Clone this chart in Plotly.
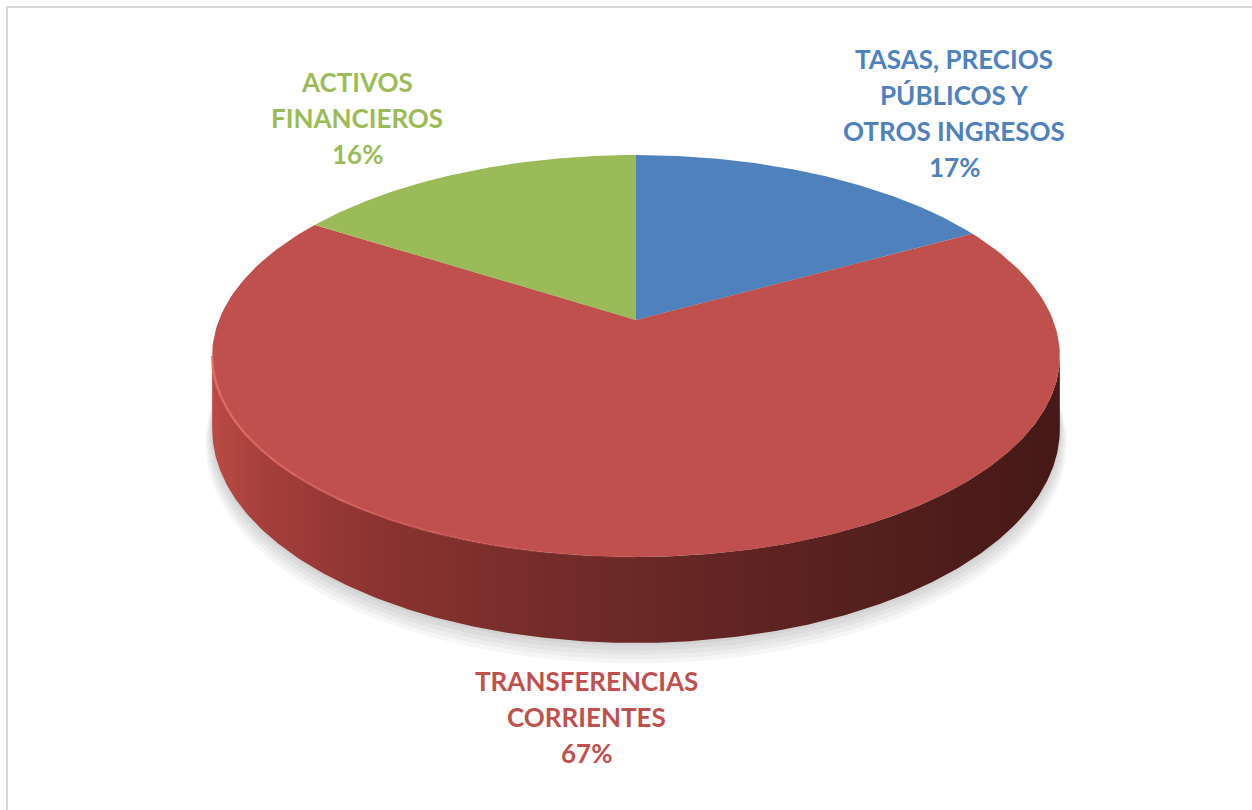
import numpy as np
import plotly.graph_objects as go

# ---------------- data ----------------
categories = ["TASAS, PRECIOS<br>PÚBLICOS Y<br>OTROS INGRESOS",
              "TRANSFERENCIAS<br>CORRIENTES",
              "ACTIVOS<br>FINANCIEROS"]
values = [17, 67, 16]
top_colors = ["#4f81bd", "#c0504d", "#9bbb59"]
text_colors = ["#4f81bd", "#c0504d", "#9bbb59"]

# ---------------- layout constants (pixels) ----------------
W, H = 1252, 810
CX, CY = 636, 320          # projected centre of the pie
A, B = 417, 194.5          # horizontal / vertical radii
K = 0.179                  # perspective factor
DEPTH = 70.6               # pie thickness
label_x = [954, 586, 357]
label_y = [59, 681, 82]
line_gap = 36


def proj(theta, drop=0.0, scale=1.0):
    u, v = np.sin(theta), np.cos(theta)
    w = 1 + K * v
    x = CX + A * scale * u / w
    y = CY - B * scale * v / w + drop / w
    return x, y


fig = go.Figure()

# soft shadow under the pie
full = np.linspace(0, 2 * np.pi, 361)
for s in [14, 11, 8, 5, 2]:
    x, y = proj(full, DEPTH + s, 1 + s / 900)
    fig.add_trace(go.Scatter(x=x, y=y, mode="lines", fill="toself",
                             line=dict(width=0), fillcolor="rgba(0,0,0,0.035)",
                             hoverinfo="skip", showlegend=False))

# visible side wall (front part)
ta = np.arccos(-K)
side_t = np.linspace(ta, 2 * np.pi - ta, 300)
xt, yt = proj(side_t)
xb, yb = proj(side_t[::-1], DEPTH)
fig.add_trace(go.Scatter(
    x=np.concatenate([xt, xb, xt[:1]]), y=np.concatenate([yt, yb, yt[:1]]),
    mode="lines", fill="toself", line=dict(width=0),
    fillgradient=dict(type="horizontal",
                      colorscale=[[0, "#bb4a45"], [0.06, "#a53f3b"], [0.2, "#8a3330"],
                                  [0.4, "#742c29"], [0.6, "#622523"], [0.8, "#531f1d"],
                                  [1, "#451917"]]),
    hoverinfo="skip", showlegend=False))

# top faces of the slices
cum = np.cumsum([0] + values) / sum(values) * 2 * np.pi
for i, (cat, val) in enumerate(zip(categories, values)):
    t = np.linspace(cum[i], cum[i + 1], 200)
    x, y = proj(t)
    fig.add_trace(go.Scatter(
        x=np.concatenate([[CX], x, [CX]]), y=np.concatenate([[CY], y, [CY]]),
        mode="lines", fill="toself", line=dict(width=0), fillcolor=top_colors[i],
        name=cat.replace("<br>", " "), hoverinfo="name", showlegend=False))

# light rim highlight on the front-left edge
rim_t = np.linspace(2 * np.pi - ta, np.pi, 8)
for j in range(len(rim_t) - 1):
    t = np.linspace(rim_t[j], rim_t[j + 1], 40)
    x, y = proj(t)
    op = 0.85 * (1 - j / (len(rim_t) - 1))
    fig.add_trace(go.Scatter(x=x, y=y, mode="lines",
                             line=dict(color=f"rgba(232,110,104,{op:.2f})", width=2.5),
                             hoverinfo="skip", showlegend=False))

# labels
annotations = []
for i, (cat, val) in enumerate(zip(categories, values)):
    lines = cat.split("<br>") + [f"{val}%"]
    for j, ln in enumerate(lines):
        annotations.append(dict(
            x=label_x[i], y=label_y[i] + j * line_gap, xref="x", yref="y",
            text=f"<b>{ln}</b>", showarrow=False, xanchor="center", yanchor="middle",
            font=dict(family="Lato", size=26, color=text_colors[i])))

fig.update_layout(
    width=W, height=H, margin=dict(l=0, r=0, t=0, b=0),
    paper_bgcolor="white", plot_bgcolor="white",
    xaxis=dict(range=[0, W], visible=False, fixedrange=True),
    yaxis=dict(range=[H, 0], visible=False, fixedrange=True),
    annotations=annotations,
    shapes=[dict(type="rect", xref="x", yref="y", x0=7, y0=7, x1=W + 20, y1=H + 20,
                 line=dict(color="#d9d9d9", width=2))],
    showlegend=False,
)

fig.write_html("out.html")
